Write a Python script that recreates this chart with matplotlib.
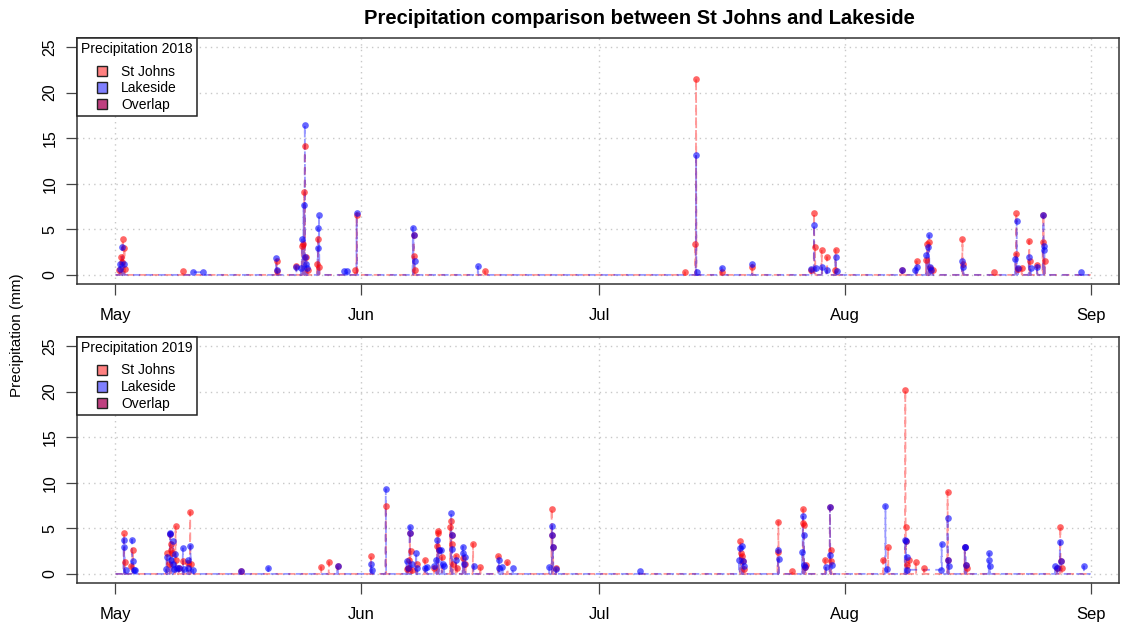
import matplotlib
matplotlib.use("Agg")
import matplotlib.pyplot as plt
from matplotlib.patches import Patch
import pandas as pd

plt.rcParams['font.family'] = ['Liberation Sans', 'DejaVu Sans']

# hourly rain (mm), only the non-zero hours are listed; every other hour is 0
sj18_time = ["05-01 12", "05-01 17", "05-01 20", "05-01 22", "05-02 03", "05-02 05",
             "05-09 12",
             "05-21 08", "05-21 10", "05-23 19",
             "05-24 12", "05-24 15", "05-24 19", "05-24 21", "05-25 02", "05-25 06",
             "05-26 11", "05-26 13", "05-26 17",
             "05-31 05", "05-31 10",
             "06-07 14", "06-07 16", "06-07 19",
             "06-16 14",
             "07-11 19", "07-13 03", "07-13 05",
             "07-16 10", "07-20 07",
             "07-27 16", "07-28 02", "07-28 05", "07-29 01", "07-29 17", "07-30 16", "07-30 19",
             "08-08 05", "08-10 00",
             "08-11 05", "08-11 09", "08-11 13", "08-11 17", "08-12 01",
             "08-15 19", "08-15 21", "08-19 19",
             "08-22 12", "08-22 14", "08-22 20", "08-23 07",
             "08-24 05", "08-24 07", "08-25 05",
             "08-25 22", "08-26 00", "08-26 04"]
sj18_mm = [0.5, 2.0, 1.4, 3.9, 3.0, 0.6,
           0.4,
           1.55, 0.45, 0.95,
           3.15, 3.35, 9.1, 14.2, 2.0, 0.5,
           1.15, 3.9, 0.9,
           0.5, 6.6,
           4.4, 2.1, 0.5,
           0.4,
           0.3, 3.35, 21.55,
           0.35, 0.9,
           0.5, 6.8, 3.1, 2.75, 1.95, 0.5, 2.75,
           0.5, 1.5,
           1.65, 3.35, 3.6, 0.8, 0.5,
           3.9, 1.2, 0.3,
           2.3, 6.8, 0.6, 0.8,
           3.75, 1.5, 1.1,
           3.6, 6.6, 1.5]

lake18_time = ["05-01 14", "05-01 15", "05-01 21", "05-02 02",
               "05-10 19", "05-12 00",
               "05-21 07", "05-21 09", "05-23 19",
               "05-24 10", "05-24 13", "05-24 17", "05-24 21", "05-24 23", "05-25 01", "05-25 03",
               "05-26 12", "05-26 14", "05-26 16",
               "05-29 20", "05-30 06", "05-31 10",
               "06-07 12", "06-07 14", "06-07 17",
               "06-15 17",
               "07-13 05", "07-13 09", "07-16 10", "07-20 07",
               "07-27 18", "07-28 02", "07-28 08", "07-29 02", "07-29 16", "07-30 19", "07-30 22",
               "08-08 05", "08-09 20", "08-10 00",
               "08-11 06", "08-11 10", "08-11 14", "08-11 18", "08-11 21",
               "08-15 18", "08-15 22",
               "08-22 11", "08-22 15", "08-22 18",
               "08-24 04", "08-24 09", "08-25 05",
               "08-26 00", "08-26 02", "08-26 03",
               "08-30 19"]
lake18_mm = [1.15, 0.6, 3.05, 1.2,
             0.3, 0.3,
             1.8, 0.55, 0.85,
             0.8, 3.9, 7.7, 16.4, 1.95, 1.2, 0.8,
             3.0, 5.2, 6.6,
             0.4, 0.4, 6.8,
             5.2, 4.4, 1.55,
             1.0,
             13.15, 0.35, 0.8, 1.15,
             0.6, 5.5, 0.8, 0.9, 0.5, 1.95, 0.4,
             0.55, 0.5, 0.85,
             2.2, 3.05, 4.35, 0.85, 0.5,
             1.5, 0.85,
             1.75, 5.95, 0.8,
             1.95, 0.8, 0.85,
             6.6, 3.15, 2.75,
             0.3]
lake18_gaps = [("05-10 20", "05-11 23")]

sj19_time = ["05-02 02", "05-02 05", "05-03 00", "05-03 04",
             "05-07 12", "05-07 19", "05-07 22", "05-07 23", "05-08 00", "05-08 04",
             "05-08 14", "05-08 16", "05-09 00", "05-09 13", "05-10 03",
             "05-10 10", "05-10 13",
             "05-16 19", "05-26 22", "05-27 22", "05-29 00",
             "06-02 05", "06-04 02",
             "06-06 18", "06-06 20", "06-07 00", "06-07 03", "06-07 05", "06-07 10", "06-07 23",
             "06-09 00", "06-10 05", "06-10 13", "06-10 15", "06-10 17", "06-10 18",
             "06-11 04", "06-12 05", "06-12 07", "06-12 09", "06-12 10", "06-12 13",
             "06-12 22", "06-13 02", "06-13 20", "06-14 03", "06-15 02", "06-16 00",
             "06-18 07", "06-19 10",
             "06-25 00", "06-25 02", "06-25 04", "06-25 12",
             "07-18 19", "07-18 22", "07-19 01", "07-19 03", "07-19 07",
             "07-23 12", "07-23 14", "07-25 07",
             "07-26 17", "07-26 18", "07-26 19", "07-26 23", "07-27 02",
             "07-29 12", "07-30 02", "07-30 04", "07-30 06",
             "08-05 19", "08-06 10",
             "08-08 14", "08-08 15", "08-08 16", "08-08 20", "08-09 01", "08-09 22", "08-10 23",
             "08-13 22", "08-14 00",
             "08-16 02", "08-16 06", "08-16 10",
             "08-27 18", "08-28 03", "08-28 04", "08-28 07"]
sj19_mm = [4.5, 1.3, 0.9, 2.6,
           2.3, 1.1, 4.35, 3.3, 2.6, 2.3,
           5.3, 1.5, 0.6, 1.4, 1.2,
           6.8, 1.1,
           0.35, 0.75, 1.3, 0.85,
           1.95, 7.45,
           0.5, 0.7, 1.5, 4.5, 2.5, 0.45, 1.1,
           1.5, 0.6, 3.1, 4.7, 4.5, 2.6,
           1.9, 5.1, 5.8, 4.3, 3.3, 1.1,
           2.0, 0.65, 1.75, 1.1, 3.3, 0.8,
           1.95, 1.3,
           7.15, 4.25, 2.9, 0.7,
           3.6, 2.3, 1.95, 1.4, 0.55,
           2.4, 5.75, 0.35,
           7.1, 5.55, 5.35, 0.8, 0.95,
           1.55, 7.35, 2.6, 1.4,
           1.55, 2.95,
           20.15, 5.2, 3.6, 1.0, 1.5, 1.3, 0.7,
           9.0, 1.5,
           3.0, 0.95, 0.6,
           0.6, 5.2, 1.4, 0.65]

lake19_time = ["05-02 01", "05-02 03", "05-02 07",
               "05-03 02", "05-03 05", "05-03 09", "05-03 12",
               "05-07 09", "05-07 11", "05-07 21", "05-07 22", "05-08 01",
               "05-08 05", "05-08 07", "05-08 09", "05-08 13", "05-08 17",
               "05-09 00", "05-09 12", "05-09 15", "05-10 02", "05-10 05", "05-10 11", "05-10 19",
               "05-16 19", "05-20 07", "05-29 00",
               "06-02 06", "06-02 09", "06-04 02",
               "06-06 17", "06-06 20", "06-07 02", "06-07 03", "06-07 08", "06-07 22", "06-08 01",
               "06-09 02", "06-09 06", "06-10 05", "06-10 11", "06-10 14", "06-10 18",
               "06-11 02", "06-11 06", "06-11 10",
               "06-12 08", "06-12 09", "06-12 11", "06-12 23",
               "06-13 19", "06-13 21", "06-13 23", "06-14 02", "06-15 04",
               "06-18 08", "06-18 10", "06-18 19", "06-20 02",
               "06-24 17", "06-25 01", "06-25 02", "06-25 04", "06-25 14",
               "07-06 02",
               "07-18 16", "07-18 18", "07-19 01", "07-19 03", "07-19 05",
               "07-23 13", "07-23 15",
               "07-26 14", "07-26 16", "07-26 19", "07-26 21", "07-26 23",
               "07-29 14", "07-30 02", "07-30 03", "07-30 07",
               "08-06 02", "08-06 06",
               "08-08 13", "08-08 16", "08-08 18", "08-08 20",
               "08-13 03", "08-13 04",
               "08-13 22", "08-14 00", "08-14 02",
               "08-16 02", "08-16 04", "08-16 06",
               "08-19 02", "08-19 04", "08-19 06",
               "08-27 12", "08-27 18", "08-28 02", "08-28 04",
               "08-31 02"]
lake19_mm = [3.75, 3.0, 0.45,
             3.75, 1.4, 0.45, 0.45,
             0.5, 1.85, 4.5, 4.35, 1.5,
             3.6, 1.1, 0.55, 2.2, 0.6,
             0.6, 2.8, 0.5, 1.5, 0.6, 3.1, 0.45,
             0.35, 0.7, 0.85,
             1.1, 0.45, 9.3,
             1.4, 0.7, 5.2, 4.5, 1.1, 2.3, 0.65,
             0.7, 0.8, 0.85, 1.5, 3.75, 2.6,
             2.6, 1.1, 0.9,
             6.65, 4.3, 2.75, 1.5,
             3.0, 2.3, 1.1, 1.85, 0.85,
             1.5, 0.7, 0.8, 0.6,
             0.75, 5.25, 4.25, 2.9, 0.5,
             0.3,
             1.5, 2.85, 3.05, 1.4, 0.85,
             2.6, 1.65,
             2.4, 6.35, 4.3, 1.0, 0.8,
             0.8, 7.35, 2.1, 1.0,
             7.5, 0.5,
             3.75, 3.6, 1.9, 0.45,
             0.45, 3.3,
             6.15, 1.5, 0.9,
             3.0, 2.9, 0.95,
             1.55, 2.25, 0.85,
             0.85, 0.6, 3.55, 1.4,
             0.85]
lake19_gaps = [("08-08 21", "08-13 02")]

years = [2018, 2019]
stations = ["St Johns", "Lakeside"]
months = ["May", "Jun", "Jul", "Aug", "Sep"]

line_col = {"St Johns": (1, 0, 0, 0.4), "Lakeside": (0, 0, 1, 0.4)}
pt_col = {"St Johns": (1, 0, 0, 0.6), "Lakeside": (0, 0, 1, 0.6)}
legend_col = ["#FF8080", "#8080FF", "#BF4080"]


def hourly(year, times, mm, gaps=()):
    idx = pd.date_range(f"{year}-05-01 00:00", f"{year}-08-31 23:00", freq="h")
    s = pd.Series(0.0, index=idx)
    for t, v in zip(times, mm):
        s[pd.Timestamp(f"{year}-{t}:00")] = v
    # rows missing from the record: the line just joins across them
    for a, b in gaps:
        s = s[(s.index < pd.Timestamp(f"{year}-{a}:00")) | (s.index > pd.Timestamp(f"{year}-{b}:00"))]
    return s


data = {
    2018: {"St Johns": hourly(2018, sj18_time, sj18_mm),
           "Lakeside": hourly(2018, lake18_time, lake18_mm, lake18_gaps)},
    2019: {"St Johns": hourly(2019, sj19_time, sj19_mm),
           "Lakeside": hourly(2019, lake19_time, lake19_mm, lake19_gaps)},
}

fig = plt.figure(figsize=(11.21, 6.28), dpi=100)
W, H = 1121, 628
ax_top = fig.add_axes([77 / W, 1 - 284 / H, 1042 / W, 246 / H])
ax_bot = fig.add_axes([77 / W, 1 - 583 / H, 1042 / W, 246 / H])

for ax, year in zip([ax_top, ax_bot], years):
    for st in stations:
        s = data[year][st]
        ax.plot(s.index, s.values, color=line_col[st], lw=1.3, dashes=(4, 3), zorder=2)
        nz = s[s > 0]
        ax.plot(nz.index, nz.values, 'o', ms=4.8, mew=0, color=pt_col[st], zorder=3)

    ax.set_xlim(pd.Timestamp(f"{year}-05-01") - pd.Timedelta(days=4.85),
                pd.Timestamp(f"{year}-09-01") + pd.Timedelta(days=3.53))
    ax.set_ylim(-1, 26)
    ax.set_xticks([pd.Timestamp(f"{year}-{m:02d}-01") for m in range(5, 10)])
    ax.set_xticklabels(months)
    ax.set_yticks([0, 5, 10, 15, 20, 25])
    ax.grid(True, color='#c8c8c8', ls=(0, (1, 3)), lw=1.0, zorder=0)
    ax.tick_params(axis='both', direction='out', length=8, width=0.9, color='#444444')
    ax.tick_params(axis='x', pad=9, labelsize=12)
    ax.tick_params(axis='y', pad=6, labelsize=11.5)
    for lab in ax.get_yticklabels():
        lab.set_rotation(90)
        lab.set_va('center')
    for sp in ax.spines.values():
        sp.set_color('#333333')
        sp.set_linewidth(1.1)

    handles = [Patch(facecolor=c, edgecolor='#222222', lw=1) for c in legend_col]
    leg = ax.legend(handles, ["St Johns", "Lakeside", "Overlap"], title=f"Precipitation {year}",
                    loc='upper left', bbox_to_anchor=(0, 1), borderaxespad=0, fontsize=10,
                    title_fontsize=10, fancybox=False, framealpha=1, edgecolor='#222222',
                    handlelength=0.75, handleheight=0.75, handletextpad=1.0, labelspacing=0.2,
                    borderpad=0.3)
    leg._legend_box.sep = 6  # extra room under the legend title
    leg.get_frame().set_linewidth(1.1)

fig.text(639 / W, 1 - 18 / H, "Precipitation comparison between St Johns and Lakeside",
         ha='center', va='center', fontsize=14.5, fontweight='bold')
fig.text(17 / W, 1 - 335 / H, "Precipitation (mm)", rotation=90, ha='center', va='center', fontsize=11)

fig.savefig("out.png", dpi=100)
